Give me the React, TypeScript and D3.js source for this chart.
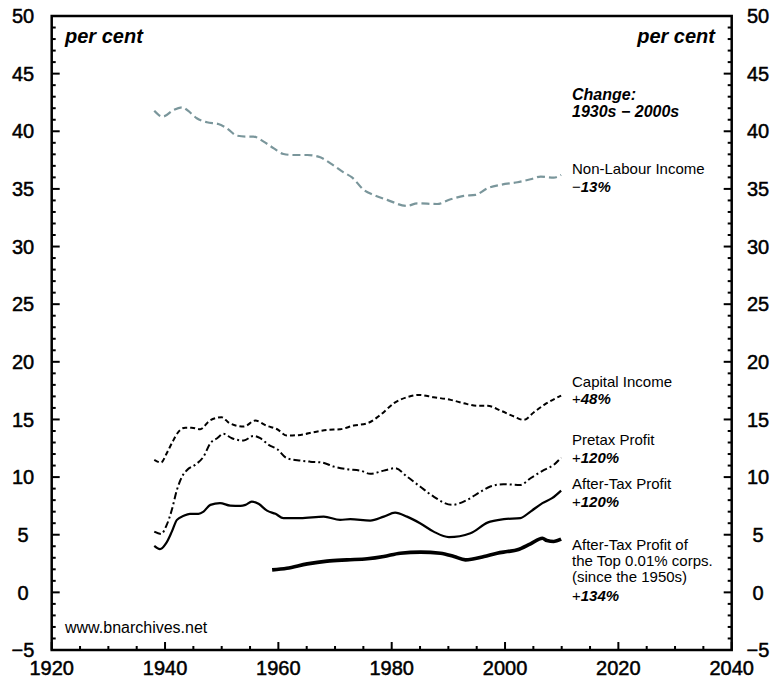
import { useEffect, useRef } from "react";
import * as d3 from "d3";

const W = 777;
const H = 686;

// Non-labour income share (per cent)
const nonLabourYears = [1938.1, 1939.6, 1941.5, 1943.1, 1944.1, 1945.6, 1947.4, 1949.4, 1950.9, 1952.7, 1954.5, 1955.6, 1957.4, 1959.2, 1960.9, 1962.7, 1965.1, 1967.4, 1969.2, 1971.5, 1973.0, 1975.1, 1976.8, 1979.2, 1982.7, 1984.5, 1988.0, 1990.4, 1992.7, 1994.8, 1996.9, 1999.2, 2002.2, 2004.5, 2006.3, 2008.6, 2009.9];
const nonLabourValues = [41.79, 41.27, 41.85, 42.08, 41.76, 41.13, 40.78, 40.63, 40.26, 39.62, 39.54, 39.54, 39.1, 38.52, 38.03, 37.94, 37.94, 37.74, 37.22, 36.44, 36.0, 34.91, 34.48, 34.05, 33.52, 33.75, 33.69, 34.1, 34.39, 34.48, 35.06, 35.35, 35.58, 35.84, 36.07, 35.98, 36.22];

const capitalYears = [1938.1, 1939.3, 1940.3, 1941.2, 1942.4, 1943.6, 1944.7, 1946.2, 1947.9, 1950.0, 1951.4, 1953.9, 1955.9, 1958.0, 1959.8, 1961.5, 1963.9, 1966.2, 1968.6, 1970.9, 1973.3, 1975.7, 1978.0, 1980.4, 1982.7, 1984.8, 1987.4, 1990.4, 1992.7, 1995.1, 1996.9, 1999.2, 2001.6, 2003.3, 2005.1, 2006.9, 2009.9];
const capitalValues = [11.49, 11.26, 12.07, 12.94, 13.95, 14.29, 14.29, 14.15, 14.9, 15.19, 14.67, 14.38, 14.9, 14.44, 14.15, 13.6, 13.66, 13.89, 14.09, 14.15, 14.47, 14.67, 15.39, 16.41, 16.93, 17.13, 16.93, 16.7, 16.41, 16.18, 16.18, 15.77, 15.25, 14.96, 15.63, 16.27, 17.07];

const pretaxYears = [1938.1, 1939.3, 1940.3, 1941.2, 1942.1, 1943.0, 1943.9, 1945.3, 1946.8, 1948.0, 1949.2, 1950.3, 1951.8, 1953.9, 1955.6, 1956.8, 1958.3, 1959.8, 1961.5, 1963.9, 1965.6, 1967.7, 1969.8, 1972.1, 1974.5, 1976.2, 1978.6, 1980.6, 1982.7, 1985.0, 1987.4, 1990.6, 1993.3, 1995.7, 1997.4, 1999.7, 2002.7, 2004.5, 2006.9, 2008.6, 2009.9];
const pretaxValues = [5.27, 5.07, 5.85, 7.16, 8.89, 10.04, 10.62, 11.06, 11.78, 12.94, 13.37, 13.75, 13.37, 13.17, 13.57, 13.37, 12.79, 12.42, 11.64, 11.43, 11.34, 11.26, 10.91, 10.68, 10.56, 10.28, 10.56, 10.77, 10.04, 9.18, 8.31, 7.59, 8.02, 8.74, 9.18, 9.38, 9.32, 9.9, 10.62, 11.06, 11.69];

const afterTaxYears = [1938.1, 1939.1, 1940.2, 1941.2, 1942.1, 1943.3, 1944.4, 1945.9, 1946.8, 1948.0, 1949.7, 1951.5, 1953.3, 1954.2, 1955.3, 1956.5, 1958.0, 1959.5, 1960.9, 1963.9, 1968.0, 1970.9, 1972.7, 1976.2, 1978.6, 1980.6, 1982.7, 1985.0, 1987.4, 1990.1, 1993.9, 1996.9, 1999.8, 2002.7, 2004.5, 2006.6, 2008.3, 2009.9];
const afterTaxValues = [4.03, 3.75, 4.27, 5.27, 6.29, 6.64, 6.81, 6.81, 7.01, 7.59, 7.74, 7.53, 7.5, 7.59, 7.88, 7.68, 7.09, 6.81, 6.44, 6.44, 6.57, 6.29, 6.35, 6.23, 6.57, 6.92, 6.57, 6.0, 5.27, 4.79, 5.13, 6.05, 6.35, 6.44, 7.01, 7.74, 8.17, 8.83];

// after-tax profit of the top 0.01% corporations (since the 1950s)
const topYears = [1958.9, 1961.5, 1965.1, 1968.6, 1972.1, 1975.7, 1978.6, 1981.5, 1985.1, 1988.6, 1991.0, 1993.0, 1996.3, 1998.6, 2000.4, 2002.2, 2004.5, 2006.6, 2007.4, 2008.6, 2009.9];
const topValues = [1.95, 2.1, 2.47, 2.71, 2.82, 2.91, 3.11, 3.4, 3.49, 3.4, 3.11, 2.82, 3.11, 3.4, 3.54, 3.69, 4.21, 4.7, 4.49, 4.41, 4.61];

const yTicks = [-5, 0, 5, 10, 15, 20, 25, 30, 35, 40, 45, 50];
const xTicks = [1920, 1940, 1960, 1980, 2000, 2020, 2040];

const FONT = "'Liberation Sans Narrow', 'Arial Narrow', 'Liberation Sans', Arial, sans-serif";

export default function App() {
  const ref = useRef<SVGSVGElement | null>(null);

  useEffect(() => {
    const svg = d3.select(ref.current);
    svg.selectAll("*").remove();

    const x = d3.scaleLinear().domain([1920, 2040]).range([51.7, 731.7]);
    const y = d3.scaleLinear().domain([-5, 50]).range([650, 16]);
    const [x0, x1] = x.range();
    const [y0, y1] = y.range();

    // minor / major ticks, all pointing inward
    const g = svg.append("g").attr("stroke", "#000").attr("stroke-width", 2);
    for (let yr = 1920; yr <= 2040; yr += 5) {
      const len = yr % 20 === 0 ? 8 : 4;
      g.append("line").attr("x1", x(yr)).attr("x2", x(yr)).attr("y1", y0).attr("y2", y0 - len);
    }
    for (let v = -5; v <= 50; v += 1) {
      const len = v % 5 === 0 ? 8 : 4;
      g.append("line").attr("x1", x0).attr("x2", x0 + len).attr("y1", y(v)).attr("y2", y(v));
      g.append("line").attr("x1", x1).attr("x2", x1 - len).attr("y1", y(v)).attr("y2", y(v));
    }
    svg.append("rect")
      .attr("x", x0).attr("y", y1)
      .attr("width", x1 - x0).attr("height", y0 - y1)
      .attr("fill", "none").attr("stroke", "#000").attr("stroke-width", 2.5);

    const tickText = svg.append("g")
      .attr("font-family", FONT).attr("font-size", 20)
      .attr("fill", "#000").attr("stroke", "#000").attr("stroke-width", 0.5);
    yTicks.forEach((v) => {
      const lab = v < 0 ? `\u2212${Math.abs(v)}` : `${v}`;
      tickText.append("text").attr("x", 23).attr("y", y(v)).attr("dy", "0.36em").attr("text-anchor", "middle").text(lab);
      tickText.append("text").attr("x", 758).attr("y", y(v)).attr("dy", "0.36em").attr("text-anchor", "middle").text(lab);
    });
    xTicks.forEach((t) => {
      tickText.append("text").attr("x", x(t)).attr("y", 675).attr("text-anchor", "middle").text(String(t));
    });

    const line = d3.line<[number, number]>()
      .x((d) => x(d[0]))
      .y((d) => y(d[1]))
      .curve(d3.curveMonotoneX);
    const zip = (a: number[], b: number[]) => a.map((v, i) => [v, b[i]] as [number, number]);

    const series = [
      { data: zip(nonLabourYears, nonLabourValues), color: "#7a969b", width: 2.2, dash: "8,4" },
      { data: zip(capitalYears, capitalValues), color: "#000", width: 2, dash: "5,3" },
      { data: zip(pretaxYears, pretaxValues), color: "#000", width: 2, dash: "7,3,2,3" },
      { data: zip(afterTaxYears, afterTaxValues), color: "#000", width: 2.2, dash: null },
      { data: zip(topYears, topValues), color: "#000", width: 3.6, dash: null },
    ];
    series.forEach((s) => {
      svg.append("path")
        .attr("d", line(s.data))
        .attr("fill", "none")
        .attr("stroke", s.color)
        .attr("stroke-width", s.width)
        .attr("stroke-dasharray", s.dash)
        .attr("stroke-linejoin", "round");
    });
  }, []);

  const lx = 572;
  const lab = { fontFamily: FONT, fontSize: 15, fill: "#000" } as const;
  const bi = { ...lab, fontWeight: "bold", fontStyle: "italic" } as const;

  return (
    <div style={{ position: "absolute", left: 0, top: 0 }}>
      <svg ref={ref} width={W} height={H} style={{ display: "block" }} />
      <svg width={W} height={H} style={{ position: "absolute", left: 0, top: 0 }}>
        <text x={65} y={43} style={{ ...bi, fontSize: 20 }}>per cent</text>
        <text x={715} y={43} textAnchor="end" style={{ ...bi, fontSize: 20 }}>per cent</text>
        <text x={lx} y={100} style={{ ...bi, fontSize: 16 }}>Change:</text>
        <text x={lx} y={117} style={{ ...bi, fontSize: 16 }}>1930s {"\u2212"} 2000s</text>
        <text x={lx} y={174} style={lab}>Non-Labour Income</text>
        <text x={lx} y={192} style={lab}>{"\u2212"}<tspan style={bi}>13%</tspan></text>
        <text x={lx} y={387} style={lab}>Capital Income</text>
        <text x={lx} y={404} style={lab}>+<tspan style={bi}>48%</tspan></text>
        <text x={lx} y={445} style={lab}>Pretax Profit</text>
        <text x={lx} y={463} style={lab}>+<tspan style={bi}>120%</tspan></text>
        <text x={lx} y={489} style={lab}>After-Tax Profit</text>
        <text x={lx} y={507} style={lab}>+<tspan style={bi}>120%</tspan></text>
        <text x={lx} y={550} style={lab}>After-Tax Profit of</text>
        <text x={lx} y={566} style={lab}>the Top 0.01% corps.</text>
        <text x={lx} y={582} style={lab}>(since the 1950s)</text>
        <text x={lx} y={601} style={lab}>+<tspan style={bi}>134%</tspan></text>
        <text x={65} y={633} style={{ ...lab, fontSize: 16 }}>www.bnarchives.net</text>
      </svg>
    </div>
  );
}
